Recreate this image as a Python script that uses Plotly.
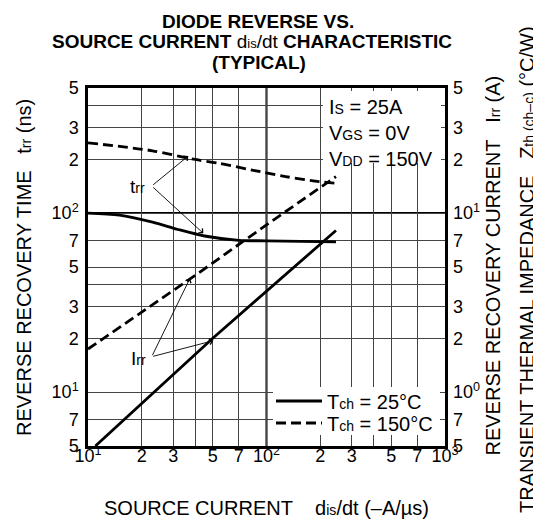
import math
import plotly.graph_objects as go

# ---------------- data ----------------
didt_trr25 = [10, 15, 23, 32, 45, 70, 100, 245]
trr25 = [100, 97.5, 89, 81, 74.5, 70.5, 70, 69]

didt_trr150 = [10, 23, 39, 54, 83, 128, 197, 245]
trr150 = [247, 223, 200, 190, 174, 160, 150, 147]

didt_irr25 = [11, 50, 245]
irr25 = [0.5, 2.0, 8.0]

didt_irr150 = [10, 40, 100, 245]
irr150 = [1.74, 4.5, 8.6, 16.0]

x_tickvals = [10, 20, 30, 50, 70, 100, 200, 300, 500, 700, 1000]
x_ticktext = ["10<sup>1</sup>", "2", "3", "5", "7", "10<sup>2</sup>", "2", "3", "5", "7", "10<sup>3</sup>"]
x_minor = [40, 400]

y_tickvals = [5, 7, 10, 20, 30, 50, 70, 100, 200, 300, 500]
y_ticktext = ["5", "7", "10<sup>1</sup>", "2", "3", "5", "7", "10<sup>2</sup>", "2", "3", "5"]
y_minor = [40, 400]

y2_tickvals = [0.5, 0.7, 1, 2, 3, 5, 7, 10, 20, 30, 50]
y2_ticktext = ["5", "7", "10<sup>0</sup>", "2", "3", "5", "7", "10<sup>1</sup>", "2", "3", "5"]

# ---------------- layout geometry (reference pixel coords) ----------------
OFF = 8                      # default page body margin
W, H = 541 - OFF, 528 - OFF
PL, PR, PT, PB = 88, 445, 88, 446   # plot area in reference pixels
L, T = PL - OFF, PT - OFF
R, B = 541 - PR, 528 - PB
PW, PH = PR - PL, PB - PT


def px(xp):
    return (xp - PL) / PW


def py(yp):
    return (PB - yp) / PH


FONT = "Liberation Sans, Arial, Helvetica, sans-serif"
GRID = "#444444"
DASH = "10px,5px"
LW = 2.8
TICK = 18

fig = go.Figure()

fig.add_trace(go.Scatter(
    x=didt_trr25, y=trr25, mode="lines", name="T<span style='font-size:14px'>ch</span> = 25°C",
    line=dict(color="black", width=LW, shape="spline", smoothing=0.8),
    legend="legend", hoverinfo="skip"))
fig.add_trace(go.Scatter(
    x=didt_trr150, y=trr150, mode="lines", name="T<span style='font-size:14px'>ch</span> = 150°C",
    line=dict(color="black", width=LW, dash=DASH, shape="spline", smoothing=0.8),
    legend="legend2", hoverinfo="skip"))
fig.add_trace(go.Scatter(
    x=didt_irr25, y=irr25, mode="lines", yaxis="y2", showlegend=False,
    line=dict(color="black", width=LW), hoverinfo="skip"))
fig.add_trace(go.Scatter(
    x=didt_irr150, y=irr150, mode="lines", yaxis="y2", showlegend=False,
    line=dict(color="black", width=LW, dash=DASH), hoverinfo="skip"))

axis_common = dict(
    type="log", ticks="", showline=True, linecolor="black", linewidth=2.5,
    tickfont=dict(family=FONT, size=TICK, color="black"),
    showgrid=True, gridcolor=GRID, gridwidth=1, zeroline=False,
)

fig.update_layout(
    width=W, height=H,
    margin=dict(l=L, r=R, t=T, b=B, pad=0),
    paper_bgcolor="white", plot_bgcolor="white",
    font=dict(family=FONT, color="black", size=19),
    xaxis=dict(range=[1, 3], tickmode="array", tickvals=x_tickvals, ticktext=x_ticktext,
               mirror=True, ticklabelstandoff=-8,
               minor=dict(tickmode="array", tickvals=x_minor, showgrid=True,
                          gridcolor=GRID, gridwidth=1, ticks=""),
               **axis_common),
    yaxis=dict(range=[math.log10(5), math.log10(500)], tickmode="array",
               tickvals=y_tickvals, ticktext=y_ticktext, mirror=True, ticklabelstandoff=3,
               minor=dict(tickmode="array", tickvals=y_minor, showgrid=True,
                          gridcolor=GRID, gridwidth=1, ticks=""),
               **axis_common),
    yaxis2=dict(overlaying="y", side="right", type="log",
                range=[math.log10(0.5), math.log10(50)], tickmode="array",
                tickvals=y2_tickvals, ticktext=y2_ticktext, ticks="", showgrid=False,
                showline=False, zeroline=False, ticklabelstandoff=7,
                tickfont=dict(family=FONT, size=TICK, color="black")),
    legend=dict(x=px(271), y=py(401), xanchor="left", yanchor="middle",
                bgcolor="rgba(0,0,0,0)", borderwidth=0, itemwidth=46,
                font=dict(family=FONT, size=20, color="black")),
    legend2=dict(x=px(271), y=py(423), xanchor="left", yanchor="middle",
                 bgcolor="rgba(0,0,0,0)", borderwidth=0, itemwidth=46,
                 font=dict(family=FONT, size=20, color="black")),
    showlegend=True,
)

# bold decade grid lines and white boxes behind the condition text and legend
shapes = [
    dict(type="line", xref="x", yref="y domain", x0=100, x1=100, y0=0, y1=1,
         line=dict(color="black", width=2), layer="below"),
    dict(type="line", xref="x domain", yref="y", x0=0, x1=1, y0=100, y1=100,
         line=dict(color="black", width=2), layer="below"),
    dict(type="rect", xref="x domain", yref="y domain", x0=px(323), x1=px(441),
         y0=py(163), y1=py(91), fillcolor="white", line=dict(width=0), layer="above"),
    dict(type="rect", xref="x domain", yref="y domain", x0=px(273), x1=px(440),
         y0=py(435), y1=py(387), fillcolor="white", line=dict(width=0), layer="above"),
]
fig.update_layout(shapes=shapes)

ann = []
small = "font-size:13px"
# title lines
ann.append(dict(text="<b>DIODE REVERSE VS.</b>", x=px(257.5), y=py(22)))
ann.append(dict(text=f"<b>SOURCE CURRENT </b>d<span style='{small}'>is</span>/dt<b> CHARACTERISTIC</b>",
                x=px(252), y=py(42)))
ann.append(dict(text="<b>(TYPICAL)</b>", x=px(259), y=py(62)))
for a in ann:
    a.update(xref="paper", yref="paper", showarrow=False, xanchor="center", yanchor="middle",
             font=dict(family=FONT, size=19, color="black"))

titles = [
    dict(text="REVERSE RECOVERY TIME\u00a0\u00a0 t<span style='font-size:14px'>rr</span> (ns)",
         x=px(24), y=py(268), textangle=-90, size=20),
    dict(text="REVERSE RECOVERY CURRENT\u00a0\u00a0 I<span style='font-size:14px'>rr</span> (A)",
         x=px(492), y=py(265.5), textangle=-90, size=20),
    dict(text="TRANSIENT THERMAL IMPEDANCE\u00a0\u00a0 Z<span style='font-size:14px'>th (ch\u2013c)</span> (°C/W)",
         x=px(527), y=py(270), textangle=-90, size=20),
    dict(text="SOURCE CURRENT\u00a0\u00a0\u00a0 d<span style='font-size:14px'>is</span>/dt (\u2013A/\u00b5s)",
         x=px(266), y=py(508), textangle=0, size=20),
]
for t in titles:
    ann.append(dict(text=t["text"], x=t["x"], y=t["y"], textangle=t["textangle"],
                    xref="paper", yref="paper", showarrow=False, xanchor="center",
                    yanchor="middle", font=dict(family=FONT, size=t["size"], color="black")))

# condition text
ann.append(dict(text="I<span style='font-size:14px'>S</span> = 25A<br>V<span style='font-size:14px'>GS</span> = 0V<br>V<span style='font-size:14px'>DD</span> = 150V",
                x=px(327), y=py(94), xref="paper", yref="paper", xanchor="left", yanchor="top",
                align="left", showarrow=False, font=dict(family=FONT, size=20, color="black")))


# curve labels with leader arrows (log-axis coordinates)
def lx(xp):
    return 1 + (xp - PL) / (PW / 2)


def ly(yp):
    return math.log10(5) + (PB - yp) / (PH / 2)


ann.append(dict(text="t<span style='font-size:14px'>rr</span>", x=lx(137.5), y=ly(186),
                xref="x", yref="y", showarrow=False, font=dict(family=FONT, size=19, color="black")))
ann.append(dict(text="I<span style='font-size:14px'>rr</span>", x=lx(138), y=ly(358.5),
                xref="x", yref="y", showarrow=False, font=dict(family=FONT, size=19, color="black")))

arrows = [
    ((151.7, 186), (188.3, 156)),
    ((151.7, 186), (203.3, 233.3)),
    ((151.7, 356.7), (190, 278.3)),
    ((151.7, 356.7), (213.3, 340.7)),
]
for tail, tip in arrows:
    ann.append(dict(text="", x=lx(tip[0]), y=ly(tip[1]), ax=lx(tail[0]), ay=ly(tail[1]),
                    xref="x", yref="y", axref="x", ayref="y", showarrow=True,
                    arrowhead=4, arrowsize=1.3, arrowwidth=0.9, arrowcolor="black"))

fig.update_layout(annotations=ann)

fig.write_html("out.html")
